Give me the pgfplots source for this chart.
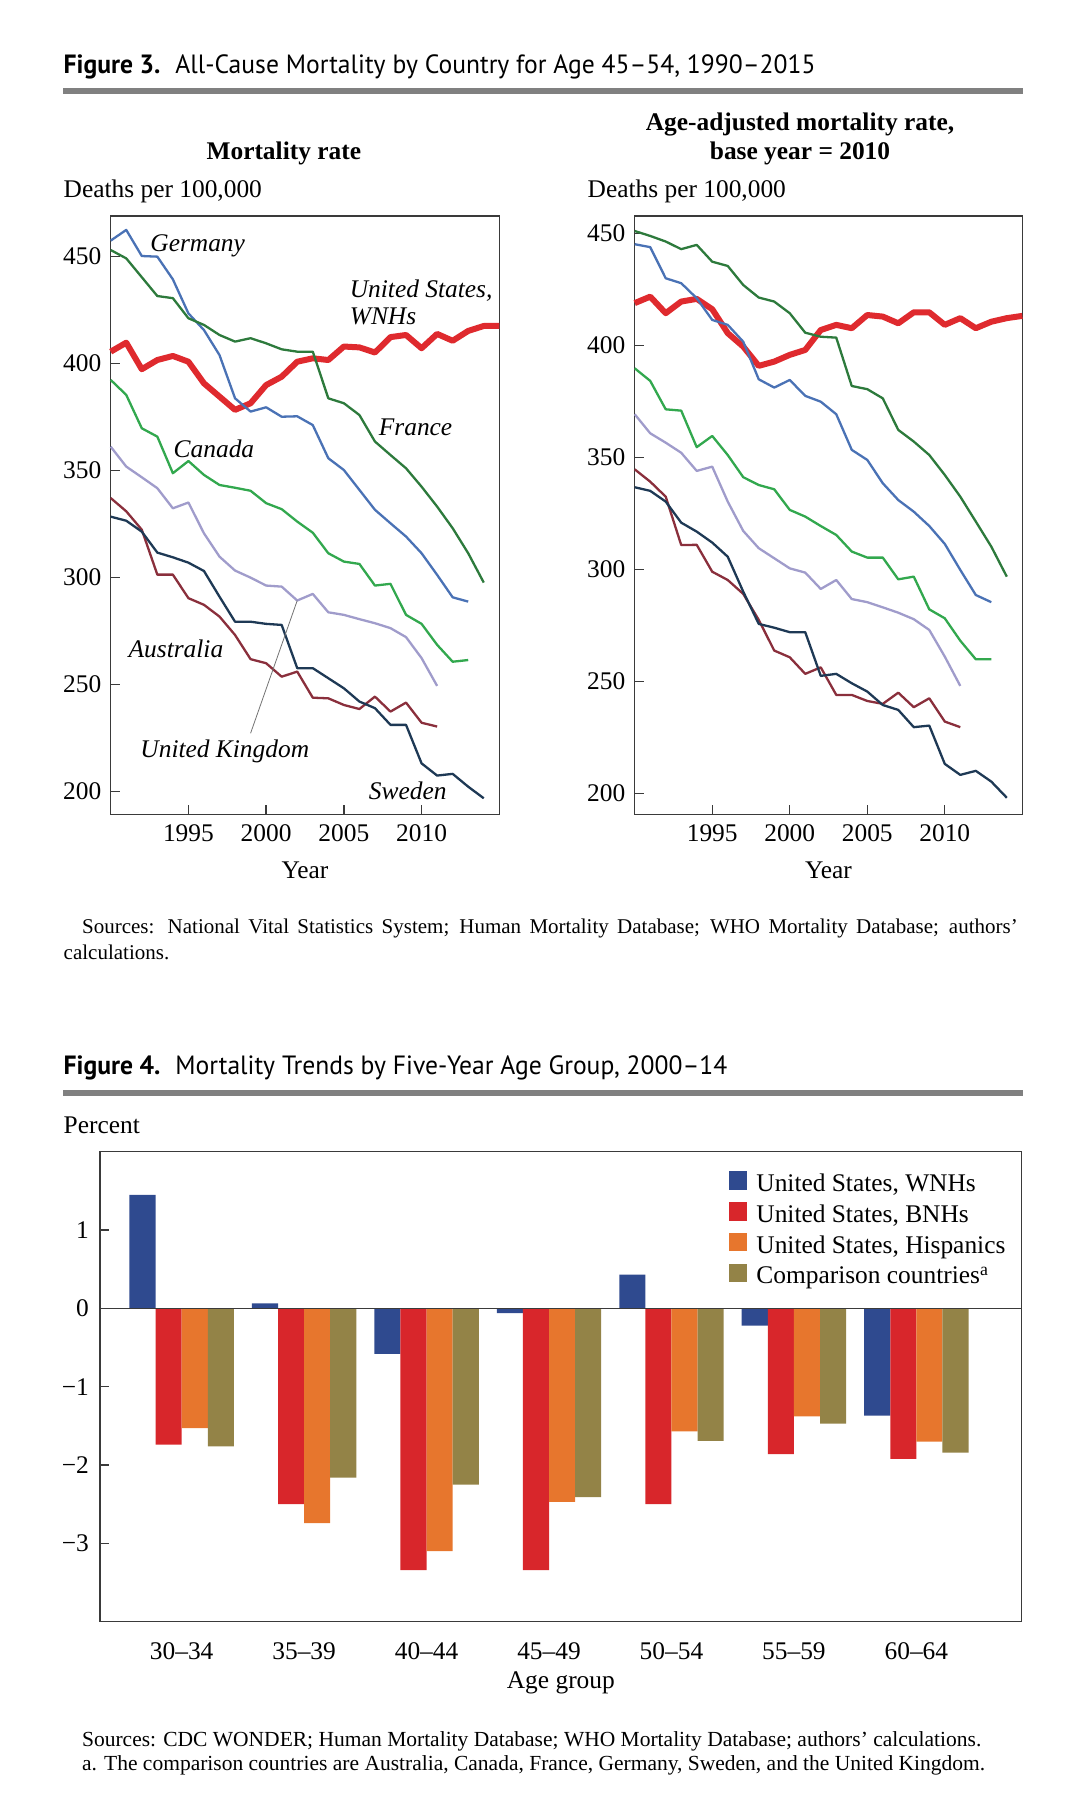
\documentclass[border=0pt]{standalone}
\usepackage{fontspec}
\setmainfont{Liberation Serif}
\newfontfamily\titlefont[FakeStretch=0.97]{PT Sans}
\usepackage{pgfplots}
\pgfplotsset{compat=1.18}

\definecolor{germany}{HTML}{4A72B5}
\definecolor{france}{HTML}{2D7A3C}
\definecolor{canada}{HTML}{32A84E}
\definecolor{uk}{HTML}{A09CCB}
\definecolor{australia}{HTML}{8A2F3C}
\definecolor{sweden}{HTML}{1E3955}
\definecolor{uswnh}{HTML}{DF2A2E}
\definecolor{wnh}{HTML}{2F4A8F}
\definecolor{bnh}{HTML}{D8262B}
\definecolor{hisp}{HTML}{E7762D}
\definecolor{comp}{HTML}{938347}
\definecolor{rule}{HTML}{808080}
\definecolor{frame}{HTML}{3A3A3A}

\newcommand{\txt}{\fontsize{12.7}{15}\selectfont}
\newcommand{\src}{\fontsize{10.5}{12.8}\selectfont}
\newcommand{\srcb}{\fontsize{10.75}{12.8}\selectfont}

\pgfplotsset{
  common/.style={
    scale only axis,
    tick align=inside,
    major tick length=4.5pt,
    xtick pos=bottom, ytick pos=left,
    axis line style={line width=0.7pt, draw=frame},
    every tick/.style={frame, line width=0.7pt},
    tick label style={font=\txt},
    label style={font=\txt},
    /pgf/number format/assume math mode=true,
    /pgf/number format/1000 sep={},
    yticklabel style={inner sep=0pt, xshift=-4.5pt},
    xticklabel style={inner sep=0pt, yshift=-5pt},
  },
  mortality/.style={
    common,
    height=299.15pt,
    xmin=1990, xmax=2015,
    xtick={1995,2000,2005,2010},
    ytick={200,250,300,350,400,450},
    xlabel={Year},
    xlabel style={at={(axis description cs:0.5,0)}, anchor=base, yshift=-32pt},
    clip=false,
    every axis plot/.append style={line width=1.15pt, line join=round, no markers},
  },
}

\begin{document}
\begin{tikzpicture}

% ---------- Figure 3 ----------
\node[anchor=base west, inner sep=0pt] at (31.65pt,-36.65pt)
  {\titlefont\fontsize{13.2}{15}\selectfont\textbf{Figure 3.}\hspace{7.5pt}All-Cause Mortality by Country for Age 45–54, 1990–2015};
\draw[rule, line width=3pt] (31.65pt,-45.65pt) -- (511.5pt,-45.65pt);

\node[anchor=base, inner sep=0pt] at (141.9pt,-80pt) {\txt\bfseries Mortality rate};
\node[anchor=base west, inner sep=0pt] at (31.65pt,-98.65pt) {\txt Deaths per 100,000};
\node[anchor=base, inner sep=0pt] at (400pt,-65.35pt) {\txt\bfseries Age-adjusted mortality rate,};
\node[anchor=base, inner sep=0pt] at (400pt,-79.65pt) {\txt\bfseries base year = 2010};
\node[anchor=base west, inner sep=0pt] at (293.65pt,-98.65pt) {\txt Deaths per 100,000};

% left panel
\begin{axis}[mortality, at={(55.35pt,-407.15pt)}, anchor=south west,
  width=194.3pt, ymin=189.4, ymax=469]
\addplot[uswnh, line width=3pt] coordinates {
  (1990,405.6) (1991,409.8) (1992,397.4) (1993,401.7) (1994,403.6) (1995,400.9)
  (1996,390.8) (1997,384.6) (1998,378.4) (1999,381.5) (2000,390.0) (2001,393.9)
  (2002,400.9) (2003,402.5) (2004,401.7) (2005,408.0) (2006,407.6) (2007,405.2)
  (2008,412.4) (2009,413.4) (2010,407.2) (2011,413.9) (2012,410.7) (2013,415.3)
  (2014,417.6) (2015,417.6)};
\addplot[germany] coordinates {
  (1990,457.5) (1991,462.5) (1992,450.3) (1993,450.0) (1994,439.4) (1995,423.5)
  (1996,415.7) (1997,404.0) (1998,383.8) (1999,377.6) (2000,379.6) (2001,375.2)
  (2002,375.4) (2003,371.3) (2004,355.8) (2005,350.3) (2006,341.0) (2007,331.7)
  (2008,325.4) (2009,319.2) (2010,311.4) (2011,301.3) (2012,290.8) (2013,288.8)};
\addplot[france] coordinates {
  (1990,453.1) (1991,449.2) (1992,440.4) (1993,431.6) (1994,430.6) (1995,421.2)
  (1996,418.1) (1997,413.4) (1998,410.3) (1999,411.9) (2000,409.5) (2001,406.7)
  (2002,405.6) (2003,405.6) (2004,383.8) (2005,381.5) (2006,376.0) (2007,363.6)
  (2008,357.3) (2009,351.1) (2010,342.5) (2011,333.2) (2012,323.1) (2013,311.4)
  (2014,297.7)};
\addplot[canada] coordinates {
  (1990,392.4) (1991,385.4) (1992,369.8) (1993,365.9) (1994,348.8) (1995,354.5)
  (1996,348.0) (1997,343.3) (1998,342.0) (1999,340.6) (2000,334.8) (2001,332.0)
  (2002,326.2) (2003,321.0) (2004,311.4) (2005,307.5) (2006,306.4) (2007,296.3)
  (2008,297.1) (2009,282.6) (2010,278.4) (2011,268.6) (2012,260.7) (2013,261.5)};
\addplot[uk] coordinates {
  (1990,361.2) (1991,351.9) (1992,346.9) (1993,341.8) (1994,332.4) (1995,335.1)
  (1996,320.7) (1997,309.8) (1998,303.3) (1999,300.0) (2000,296.3) (2001,295.8)
  (2002,289.3) (2003,292.4) (2004,283.8) (2005,282.6) (2006,280.6) (2007,278.7)
  (2008,276.4) (2009,272.2) (2010,262.4) (2011,249.4)};
\addplot[australia] coordinates {
  (1990,337.2) (1991,331.0) (1992,322.4) (1993,301.4) (1994,301.4) (1995,290.4)
  (1996,287.3) (1997,281.8) (1998,273.2) (1999,261.9) (2000,260.0) (2001,253.7)
  (2002,256.1) (2003,243.9) (2004,243.6) (2005,240.5) (2006,238.6) (2007,244.4)
  (2008,237.4) (2009,241.6) (2010,232.2) (2011,230.4)};
\addplot[sweden] coordinates {
  (1990,328.5) (1991,326.6) (1992,321.5) (1993,311.7) (1994,309.5) (1995,307.0)
  (1996,303.1) (1997,291.1) (1998,279.4) (1999,279.4) (2000,278.4) (2001,277.9)
  (2002,257.7) (2003,257.7) (2004,253.0) (2005,248.3) (2006,242.1) (2007,239.0)
  (2008,231.2) (2009,231.2) (2010,213.2) (2011,207.5) (2012,208.3) (2013,202.3)
  (2014,196.9)};
\draw[black!55, line width=0.4pt] (axis cs:2002,289.3) -- (axis cs:1999,227.3);
\begin{scope}[every node/.style={anchor=base west, inner sep=0pt, font=\txt\itshape}]
\node at (axis cs:1992.53,452.3) {Germany};
\node at (axis cs:2005.36,430.8) {United States,};
\node at (axis cs:2005.36,418.1) {WNHs};
\node at (axis cs:2007.23,366.2) {France};
\node at (axis cs:1994.03,356.3) {Canada};
\node at (axis cs:1991.13,262.8) {Australia};
\node at (axis cs:1991.89,215.9) {United Kingdom};
\node at (axis cs:2006.59,196.4) {Sweden};
\end{scope}
\end{axis}

% right panel
\begin{axis}[mortality, at={(317.35pt,-407.15pt)}, anchor=south west,
  width=193.8pt, ymin=190.6, ymax=457.7]
\addplot[uswnh, line width=3pt] coordinates {
  (1990,418.8) (1991,421.7) (1992,414.3) (1993,419.5) (1994,420.7) (1995,416.1)
  (1996,405.4) (1997,399.4) (1998,390.8) (1999,392.7) (2000,395.7) (2001,397.9)
  (2002,406.8) (2003,409.1) (2004,407.6) (2005,413.5) (2006,412.8) (2007,409.8)
  (2008,414.7) (2009,414.7) (2010,409.1) (2011,412.1) (2012,407.6) (2013,410.5)
  (2014,412.1) (2015,413.1)};
\addplot[germany] coordinates {
  (1990,445.1) (1991,443.8) (1992,429.9) (1993,427.7) (1994,421.0) (1995,411.3)
  (1996,409.1) (1997,401.6) (1998,384.8) (1999,381.1) (2000,384.5) (2001,377.4)
  (2002,374.8) (2003,369.2) (2004,353.3) (2005,348.8) (2006,338.4) (2007,330.9)
  (2008,325.7) (2009,319.3) (2010,311.3) (2011,299.7) (2012,288.5) (2013,285.3)};
\addplot[france] coordinates {
  (1990,451.0) (1991,448.8) (1992,446.3) (1993,442.9) (1994,444.8) (1995,437.3)
  (1996,435.4) (1997,426.9) (1998,421.3) (1999,419.5) (2000,414.3) (2001,405.6)
  (2002,403.8) (2003,403.4) (2004,381.8) (2005,380.4) (2006,376.3) (2007,362.2)
  (2008,357.0) (2009,351.0) (2010,342.1) (2011,332.4) (2012,321.3) (2013,310.1)
  (2014,296.7)};
\addplot[canada] coordinates {
  (1990,389.7) (1991,384.1) (1992,371.4) (1993,370.8) (1994,354.5) (1995,359.5)
  (1996,351.0) (1997,341.1) (1998,337.6) (1999,335.7) (2000,326.5) (2001,323.5)
  (2002,319.3) (2003,315.3) (2004,307.9) (2005,305.2) (2006,305.2) (2007,295.5)
  (2008,296.7) (2009,282.1) (2010,278.1) (2011,268.1) (2012,259.8) (2013,259.8)};
\addplot[uk] coordinates {
  (1990,369.2) (1991,360.7) (1992,356.5) (1993,352.0) (1994,343.9) (1995,345.8)
  (1996,330.2) (1997,317.1) (1998,309.4) (1999,304.9) (2000,300.4) (2001,298.5)
  (2002,291.2) (2003,295.2) (2004,286.7) (2005,285.3) (2006,283.0) (2007,280.6)
  (2008,277.7) (2009,272.9) (2010,261.0) (2011,247.9)};
\addplot[australia] coordinates {
  (1990,344.6) (1991,339.1) (1992,332.4) (1993,310.8) (1994,310.9) (1995,298.9)
  (1996,295.2) (1997,289.0) (1998,277.4) (1999,263.7) (2000,260.7) (2001,253.3)
  (2002,256.2) (2003,243.9) (2004,243.9) (2005,241.2) (2006,239.9) (2007,244.9)
  (2008,238.4) (2009,242.4) (2010,232.0) (2011,229.5)};
\addplot[sweden] coordinates {
  (1990,336.6) (1991,335.0) (1992,330.2) (1993,320.8) (1994,316.8) (1995,311.9)
  (1996,305.6) (1997,290.0) (1998,275.6) (1999,273.9) (2000,271.9) (2001,271.9)
  (2002,252.4) (2003,253.3) (2004,249.1) (2005,245.4) (2006,239.4) (2007,237.2)
  (2008,229.5) (2009,230.2) (2010,213.1) (2011,208.2) (2012,210.0) (2013,205.2)
  (2014,198.0)};
\end{axis}

\node[anchor=base west, inner sep=0pt] at (40.85pt,-466.65pt)
  {\src\makebox[467.8pt][s]{Sources: National Vital Statistics System; Human Mortality Database; WHO Mortality Database; authors’}};
\node[anchor=base west, inner sep=0pt] at (31.65pt,-479.5pt) {\src calculations.};

% ---------- Figure 4 ----------
\node[anchor=base west, inner sep=0pt] at (31.65pt,-537.15pt)
  {\titlefont\fontsize{13.2}{15}\selectfont\textbf{Figure 4.}\hspace{7.5pt}Mortality Trends by Five-Year Age Group, 2000–14};
\draw[rule, line width=3pt] (31.65pt,-546.25pt) -- (511.5pt,-546.25pt);
\node[anchor=base west, inner sep=0pt] at (31.65pt,-566.65pt) {\txt Percent};

\begin{axis}[common, at={(50pt,-810.85pt)}, anchor=south west,
  width=460.85pt, height=235pt,
  ybar=0pt, bar width=13.05pt,
  xmin=-0.667, xmax=6.86, ymin=-4, ymax=2,
  xtick={0,1,2,3,4,5,6},
  xticklabels={30–34,35–39,40–44,45–49,50–54,55–59,60–64},
  xtick style={draw=none},
  ytick={-3,-2,-1,0,1},
  yticklabels={−3,−2,−1,0,1},
  yticklabel style={xshift=-0.85pt},
  xticklabel style={yshift=-0.7pt},
  xlabel={Age group},
  xlabel style={at={(axis description cs:0.5,0)}, anchor=base, yshift=-33.3pt},
  legend style={at={(axis description cs:0.682,0.959)}, anchor=north west,
    draw=none, fill=none, inner sep=0pt, font=\txt,
    row sep=2.5pt, column sep=4.85pt,
    nodes={inner sep=0pt, text height=9.2pt, text depth=3pt}},
  legend cell align=left,
  legend image code/.code={\fill[#1] (0pt,-2.3pt) rectangle (8.85pt,6.85pt);},
]
\addplot[fill=wnh, draw=none] coordinates {
  (0,1.45) (1,0.064) (2,-0.58) (3,-0.06) (4,0.43) (5,-0.22) (6,-1.37)};
\addlegendentry{United States, WNHs}
\addplot[fill=bnh, draw=none] coordinates {
  (0,-1.74) (1,-2.50) (2,-3.34) (3,-3.34) (4,-2.50) (5,-1.86) (6,-1.92)};
\addlegendentry{United States, BNHs}
\addplot[fill=hisp, draw=none] coordinates {
  (0,-1.53) (1,-2.74) (2,-3.10) (3,-2.47) (4,-1.57) (5,-1.38) (6,-1.70)};
\addlegendentry{United States, Hispanics}
\addplot[fill=comp, draw=none] coordinates {
  (0,-1.76) (1,-2.16) (2,-2.25) (3,-2.41) (4,-1.69) (5,-1.47) (6,-1.84)};
\addlegendentry{Comparison countries\textsuperscript{a}}
\draw[frame, line width=0.7pt] (axis cs:-0.667,0) -- (axis cs:6.86,0);
\end{axis}

\node[anchor=base west, inner sep=0pt] at (40.85pt,-873pt)
  {\srcb Sources: CDC WONDER; Human Mortality Database; WHO Mortality Database; authors’ calculations.};
\node[anchor=base west, inner sep=0pt] at (40.85pt,-885pt)
  {\srcb a. The comparison countries are Australia, Canada, France, Germany, Sweden, and the United Kingdom.};

\pgfresetboundingbox
\path[use as bounding box] (0pt,0pt) rectangle (544pt,-901.5pt);
\end{tikzpicture}
\end{document}
